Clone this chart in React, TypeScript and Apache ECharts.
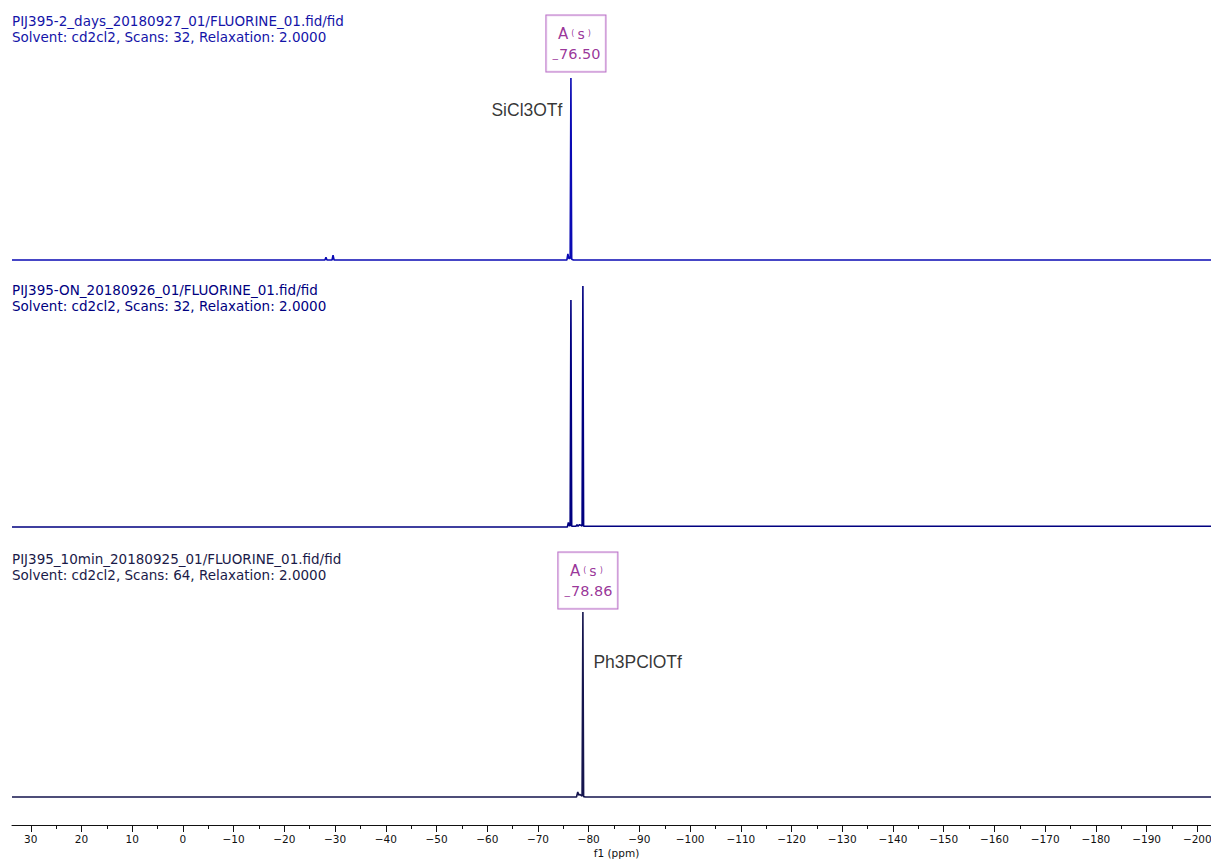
import React, { useEffect, useRef } from "react";
import * as echarts from "echarts";

// 19F NMR spectra: ppm / relative intensity pairs (baseline = 0, tallest peak = 100)
const spectrumTwoDays: [number, number][] = [
  [33.7, 0], [-28.0, 0], [-28.2, 1.5], [-28.4, 0], [-29.4, 0], [-29.6, 2.7], [-29.8, 0],
  [-75.7, 0], [-75.9, 3.3], [-76.1, 0.8], [-76.35, 0.8], [-76.5, 100], [-76.65, 0.4],
  [-77.0, 0], [-202.7, 0],
];
const spectrumOvernight: [number, number][] = [
  [33.7, 0], [-75.8, 0], [-76.0, 1.9], [-76.2, 0.5], [-76.35, 0.5], [-76.5, 94.2], [-76.65, 0.3],
  [-77.5, 0.3], [-77.7, 1.0], [-77.9, 0.3], [-78.2, 1.0], [-78.7, 0.4], [-78.86, 100],
  [-79.0, 0.3], [-79.4, 0.3], [-202.7, 0.3],
];
const spectrumTenMin: [number, number][] = [
  [33.7, 0], [-77.6, 0], [-77.85, 2.7], [-78.05, 1.0], [-78.25, 1.4], [-78.7, 0.5], [-78.86, 100],
  [-79.0, 0.2], [-79.4, 0], [-202.7, 0],
];

const spectrumTitles = [
  ["PIJ395-2_days_20180927_01/FLUORINE_01.fid/fid", "Solvent: cd2cl2, Scans: 32, Relaxation: 2.0000"],
  ["PIJ395-ON_20180926_01/FLUORINE_01.fid/fid", "Solvent: cd2cl2, Scans: 32, Relaxation: 2.0000"],
  ["PIJ395_10min_20180925_01/FLUORINE_01.fid/fid", "Solvent: cd2cl2, Scans: 64, Relaxation: 2.0000"],
];

// peak annotations: [ppm, intensity]
const peakTwoDays: [number, number] = [-76.5, 100];
const peakTenMin: [number, number] = [-78.86, 100];
const compoundSi: [number, number] = [-76.5, 82.4];
const compoundP: [number, number] = [-78.86, 73];

const majorTicks = [30, 20, 10, 0, -10, -20, -30, -40, -50, -60, -70, -80, -90, -100, -110, -120, -130, -140, -150, -160, -170, -180, -190, -200];
const minorTicks = [25, 15, 5, -5, -15, -25, -35, -45, -55, -65, -75, -85, -95, -105, -115, -125, -135, -145, -155, -165, -175, -185, -195];

const PPM_MIN = -202.7;
const PPM_MAX = 33.7;

const lineColors = ["#0a0ab4", "#000080", "#15154e"];
const titleColors = ["#1414a8", "#000080", "#1a1a48"];
const titleTops = [14, 283, 552];

const FONT = "DejaVu Sans";
const PURPLE = "#800080";

const richBox = {
  letter: { fontSize: 15, color: PURPLE, fontFamily: FONT, lineHeight: 20 },
  paren: { fontSize: 8, color: PURPLE, fontFamily: FONT, lineHeight: 20, padding: [0, 3, 0, 3] },
  mult: { fontSize: 14, color: PURPLE, fontFamily: FONT, lineHeight: 20 },
  neg: { fontSize: 9, color: PURPLE, fontFamily: FONT, lineHeight: 20, verticalAlign: "bottom" },
  shift: { fontSize: 14.5, color: PURPLE, fontFamily: FONT, lineHeight: 20 },
};

function peakBoxText(ppm: number) {
  const abs = Math.abs(ppm).toFixed(2);
  return `{letter|A}{paren|(}{mult|s}{paren|)}\n{neg|−}{shift|${abs}}`;
}

export default function App() {
  const ref = useRef<HTMLDivElement>(null);

  useEffect(() => {
    if (!ref.current) return;
    const chart = echarts.init(ref.current, null, { renderer: "svg" });

    // three spectrum panels, then two zero-height strips carrying the ppm scale
    const tops = [78, 286, 612, 825, 825];
    const heights = [182, 241, 185, 0, 0];
    const grids = tops.map((top, i) => ({
      left: 12,
      right: 0,
      top,
      height: heights[i],
      containLabel: false,
      outerBoundsMode: "none",
    }));

    const hiddenX = (gridIndex: number) => ({
      type: "value",
      gridIndex,
      min: PPM_MIN,
      max: PPM_MAX,
      inverse: true,
      show: false,
    });

    const boxLabel = (ppm: number, distance: number) => ({
      show: true,
      position: "top",
      distance,
      offset: [5, 0],
      formatter: peakBoxText(ppm),
      rich: richBox,
      backgroundColor: "#ffffff",
      borderColor: "#a848b8",
      borderWidth: 1,
      padding: [8, 5, 8, 5],
    });

    const nameLabel = (text: string, position: string, distance: number) => ({
      show: true,
      position,
      distance,
      formatter: text,
      color: "#000000",
      fontFamily: "Liberation Sans",
      fontSize: 17.5,
    });

    const anno = (xAxisIndex: number, yAxisIndex: number, point: [number, number], label: any) => ({
      type: "scatter",
      xAxisIndex,
      yAxisIndex,
      symbolSize: 1,
      itemStyle: { color: "rgba(0,0,0,0)" },
      clip: false,
      silent: true,
      z: 5,
      data: [point],
      label,
    });

    const spectrum = (idx: number, data: [number, number][]) => ({
      type: "line",
      xAxisIndex: idx,
      yAxisIndex: idx,
      data,
      showSymbol: false,
      symbol: "none",
      lineStyle: { color: lineColors[idx], width: 1.6 },
      clip: false,
      silent: true,
    });

    const graphics: any[] = [];
    spectrumTitles.forEach((lines, i) => {
      lines.forEach((t, j) => {
        graphics.push({
          type: "text",
          left: 12,
          top: titleTops[i] + j * 16,
          style: { text: t, fill: titleColors[i], font: `13.5px "${FONT}"` },
        });
      });
    });

    chart.setOption({
      animation: false,
      backgroundColor: "#ffffff",
      grid: grids,
      xAxis: [
        hiddenX(0),
        hiddenX(1),
        hiddenX(2),
        {
          type: "value",
          gridIndex: 3,
          min: PPM_MIN,
          max: PPM_MAX,
          inverse: true,
          position: "bottom",
          name: "f1 (ppm)",
          nameLocation: "middle",
          nameGap: 22,
          nameTextStyle: { fontFamily: FONT, fontSize: 10.5, color: "#111", padding: [0, 0, 0, 10] },
          axisLine: { show: true, onZero: false, lineStyle: { color: "#111", width: 1 } },
          axisTick: { show: true, length: 7, customValues: majorTicks, lineStyle: { color: "#111" } },
          axisLabel: {
            show: true,
            customValues: majorTicks,
            margin: 8,
            fontFamily: FONT,
            fontSize: 10.5,
            color: "#111",
            formatter: (v: number) => String(v).replace("-", "−"),
          },
          splitLine: { show: false },
        },
        {
          type: "value",
          gridIndex: 4,
          min: PPM_MIN,
          max: PPM_MAX,
          inverse: true,
          position: "bottom",
          axisLine: { show: false, onZero: false },
          axisTick: { show: true, length: 4, customValues: minorTicks, lineStyle: { color: "#111" } },
          axisLabel: { show: false },
          splitLine: { show: false },
        },
      ],
      yAxis: [0, 1, 2, 3, 4].map((i) => ({ type: "value", gridIndex: i, min: 0, max: 100, show: false })),
      series: [
        spectrum(0, spectrumTwoDays),
        spectrum(1, spectrumOvernight),
        spectrum(2, spectrumTenMin),
        anno(0, 0, peakTwoDays, boxLabel(peakTwoDays[0], 6)),
        anno(2, 2, peakTenMin, boxLabel(peakTenMin[0], 3)),
        anno(0, 0, compoundSi, nameLabel("SiCl3OTf", "left", 8)),
        anno(2, 2, compoundP, nameLabel("Ph3PClOTf", "right", 10)),
      ],
      graphic: graphics,
    });

    return () => chart.dispose();
  }, []);

  return (
    <div
      ref={ref}
      style={{ position: "fixed", left: 0, top: 0, width: 1211, height: 859, background: "#fff" }}
    />
  );
}
